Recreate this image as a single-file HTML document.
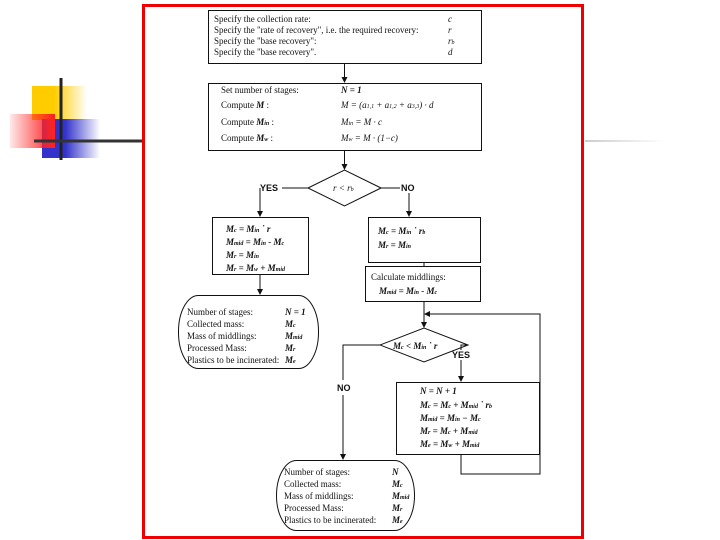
<!DOCTYPE html>
<html><head><meta charset="utf-8"><style>
html,body{margin:0;padding:0;background:#fff;}
svg{display:block;}
text{font-family:"Liberation Serif",serif;font-size:9px;fill:#111;}
.b{font-weight:bold;font-style:italic;}
.i{font-style:italic;}
.s{font-family:"Liberation Sans",sans-serif;font-weight:bold;font-size:9px;}
</style></head><body>
<svg width="720" height="540" viewBox="0 0 720 540" xmlns="http://www.w3.org/2000/svg">
<defs>
<linearGradient id="gy" x1="0" x2="1"><stop offset="0.4" stop-color="#fc0"/><stop offset="1" stop-color="#fc0" stop-opacity="0"/></linearGradient>
<linearGradient id="gb" x1="0" x2="1"><stop offset="0.4" stop-color="#33c"/><stop offset="1" stop-color="#33c" stop-opacity="0"/></linearGradient>
<linearGradient id="gr" x1="1" x2="0"><stop offset="0.05" stop-color="#f22"/><stop offset="1" stop-color="#f22" stop-opacity="0.1"/></linearGradient>
<linearGradient id="gl" x1="0" x2="1"><stop offset="0" stop-color="#ccc"/><stop offset="1" stop-color="#ccc" stop-opacity="0"/></linearGradient>
<marker id="a" markerWidth="6" markerHeight="6" refX="5" refY="3" orient="auto"><path d="M0,0 L6,3 L0,6z" fill="#111"/></marker>
</defs>
<rect x="32" y="86" width="55" height="34" fill="url(#gy)"/>
<rect x="42" y="119" width="58" height="39" fill="url(#gb)"/>
<rect x="10" y="114" width="45" height="34" fill="url(#gr)"/>
<line x1="61" y1="78" x2="61" y2="160" stroke="#222" stroke-width="3"/>
<line x1="34" y1="141" x2="143" y2="141" stroke="#333" stroke-width="3"/>
<rect x="585" y="140" width="80" height="2" fill="url(#gl)"/>
<rect x="143.5" y="5.5" width="439" height="532" fill="none" stroke="#e00" stroke-width="3"/>

<g stroke="#111" stroke-width="1" fill="none">
<rect x="208.5" y="10.5" width="273" height="53"/>
<rect x="208.5" y="83.5" width="273" height="67"/>
<polygon points="308,188 344.5,170 381,188 344.5,206"/>
<rect x="212.5" y="217.5" width="96" height="57"/>
<rect x="368.5" y="217.5" width="112" height="45"/>
<rect x="365.5" y="266.5" width="115" height="35"/>
<rect x="178.5" y="295.5" width="140" height="73" rx="20" ry="36"/>
<polygon points="380,345 424,328 468,345 424,362"/>
<rect x="396.5" y="382.5" width="143" height="72"/>
<rect x="276.5" y="460.5" width="138" height="70" rx="20" ry="35"/>
<line x1="344.5" y1="63" x2="344.5" y2="82" marker-end="url(#a)"/>
<line x1="344.5" y1="151" x2="344.5" y2="169" marker-end="url(#a)"/>
<polyline points="308,188 282,188"/>
<polyline points="260,188 260,216" marker-end="url(#a)"/>
<polyline points="381,188 400,188"/>
<polyline points="409,193 409,216" marker-end="url(#a)"/>
<line x1="260" y1="275" x2="260" y2="294" marker-end="url(#a)"/>
<line x1="424" y1="263" x2="424" y2="266"/>
<line x1="424" y1="302" x2="424" y2="327" marker-end="url(#a)"/>
<polyline points="380,345 343,345 343,380"/>
<polyline points="343,395 343,459" marker-end="url(#a)"/>
<polyline points="468,345 461,345 461,350"/>
<polyline points="461,360 461,381" marker-end="url(#a)"/>
<polyline points="461,455 461,474 540,474 540,314 425,314" marker-end="url(#a)"/>
</g>

<text x="214" y="22">Specify the collection rate:</text><text x="448" y="22" class="i">c</text>
<text x="214" y="33">Specify the "rate of recovery", i.e. the required recovery:</text><text x="448" y="33" class="i">r</text>
<text x="214" y="44">Specify  the "base recovery":</text><text x="448" y="44" class="i">r<tspan font-size="6">b</tspan></text>
<text x="214" y="55">Specify  the "base recovery".</text><text x="448" y="55" class="i">d</text>

<text x="221" y="93">Set number of stages:</text><text x="341" y="93" class="b">N = 1</text>
<text x="221" y="108">Compute <tspan class="b">M</tspan> :</text><text x="341" y="108" class="i">M = (a<tspan font-size="6">1,1</tspan> + a<tspan font-size="6">1,2</tspan> + a<tspan font-size="6">3,3</tspan>) · d</text>
<text x="221" y="125">Compute <tspan class="b">M<tspan font-size="6">in</tspan></tspan> :</text><text x="341" y="125" class="i">M<tspan font-size="6">in</tspan> = M · c</text>
<text x="221" y="141">Compute <tspan class="b">M<tspan font-size="6">w</tspan></tspan> :</text><text x="341" y="141" class="i">M<tspan font-size="6">w</tspan> = M · (1−c)</text>

<text x="333" y="191" class="i">r  &lt;  r<tspan font-size="6">b</tspan></text>
<text x="260" y="191" class="s">YES</text>
<text x="401" y="191" class="s">NO</text>

<text x="226" y="232" class="b">M<tspan font-size="6">c</tspan> = M<tspan font-size="6">in</tspan> ˙ r</text>
<text x="226" y="245" class="b">M<tspan font-size="6">mid</tspan> = M<tspan font-size="6">in</tspan> - M<tspan font-size="6">c</tspan></text>
<text x="226" y="258" class="b">M<tspan font-size="6">r</tspan> = M<tspan font-size="6">in</tspan></text>
<text x="226" y="271" class="b">M<tspan font-size="6">r</tspan> = M<tspan font-size="6">w</tspan> + M<tspan font-size="6">mid</tspan></text>
<text x="378" y="234" class="b">M<tspan font-size="6">c</tspan> = M<tspan font-size="6">in</tspan> ˙ r<tspan font-size="6">b</tspan></text>
<text x="378" y="248" class="b">M<tspan font-size="6">r</tspan> = M<tspan font-size="6">in</tspan></text>
<text x="371" y="280">Calculate middlings:</text>
<text x="379" y="294" class="b">M<tspan font-size="6">mid</tspan> = M<tspan font-size="6">in</tspan> - M<tspan font-size="6">c</tspan></text>

<text x="187" y="315">Number of stages:</text><text x="285" y="315" class="b">N = 1</text>
<text x="187" y="327">Collected mass:</text><text x="285" y="327" class="b">M<tspan font-size="6">c</tspan></text>
<text x="187" y="339">Mass of middlings:</text><text x="285" y="339" class="b">M<tspan font-size="6">mid</tspan></text>
<text x="187" y="351">Processed Mass:</text><text x="285" y="351" class="b">M<tspan font-size="6">r</tspan></text>
<text x="187" y="363">Plastics to be incinerated:</text><text x="285" y="363" class="b">M<tspan font-size="6">e</tspan></text>

<text x="393" y="349" class="b">M<tspan font-size="6">c</tspan> &lt; M<tspan font-size="6">in</tspan> ˙ r</text>
<text x="452" y="358" class="s">YES</text>
<text x="337" y="391" class="s">NO</text>

<text x="420" y="394" class="b" font-size="10">N = N + 1</text>
<text x="420" y="408" class="b">M<tspan font-size="6">c</tspan> = M<tspan font-size="6">c</tspan> + M<tspan font-size="6">mid</tspan> ˙ r<tspan font-size="6">b</tspan></text>
<text x="420" y="421" class="b">M<tspan font-size="6">mid</tspan> = M<tspan font-size="6">in</tspan> − M<tspan font-size="6">c</tspan></text>
<text x="420" y="434" class="b">M<tspan font-size="6">r</tspan> = M<tspan font-size="6">c</tspan> + M<tspan font-size="6">mid</tspan></text>
<text x="420" y="447" class="b">M<tspan font-size="6">e</tspan> = M<tspan font-size="6">w</tspan> + M<tspan font-size="6">mid</tspan></text>

<text x="284" y="475">Number of stages:</text><text x="392" y="475" class="b">N</text>
<text x="284" y="487">Collected mass:</text><text x="392" y="487" class="b">M<tspan font-size="6">c</tspan></text>
<text x="284" y="499">Mass of middlings:</text><text x="392" y="499" class="b">M<tspan font-size="6">mid</tspan></text>
<text x="284" y="511">Processed Mass:</text><text x="392" y="511" class="b">M<tspan font-size="6">r</tspan></text>
<text x="284" y="523">Plastics to be incinerated:</text><text x="392" y="523" class="b">M<tspan font-size="6">e</tspan></text>
</svg>
</body></html>
